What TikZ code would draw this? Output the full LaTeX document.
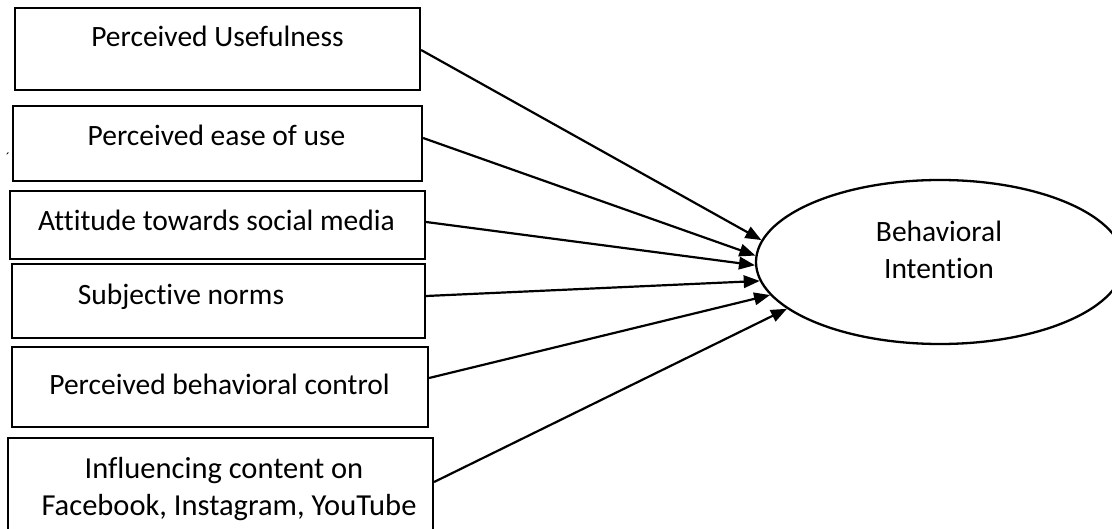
\documentclass[tikz,border=0pt]{standalone}
\usepackage{fontspec}
\setmainfont{Carlito}[Ligatures=NoCommon]
\usetikzlibrary{arrows.meta,shapes.geometric}
\begin{document}
\begin{tikzpicture}[x=1pt,y=-1pt,
  box/.style={draw=black,line width=2.2pt,rectangle,inner sep=0pt},
  txt/.style={inner sep=0pt,anchor=base,font=\fontsize{29.5}{37}\selectfont,align=center},
  bigtxt/.style={txt,font=\fontsize{30.5}{37}\selectfont},
  conn/.style={draw=black,line width=2.2pt,-{Triangle[length=16pt,width=12.5pt]}},
  oval/.style={draw=black,line width=2.3pt,ellipse,inner sep=0pt,minimum width=368pt,minimum height=164pt}]
\useasboundingbox (0,0) rectangle (1112,529);
\clip (0,0) rectangle (1112,529);
% boxes
\node[box,minimum width=405pt,minimum height=82pt] (b1) at (217.5,49) {};
\node[box,minimum width=409pt,minimum height=75pt] (b2) at (217.5,143.5) {};
\node[box,minimum width=415pt,minimum height=68pt] (b3) at (217.5,225) {};
\node[box,minimum width=413pt,minimum height=74pt] (b4) at (218.5,301) {};
\node[box,minimum width=416pt,minimum height=80pt] (b5) at (220,387) {};
\node[box,minimum width=425pt,minimum height=114pt] (b6) at (220.5,495) {};
% texts
\node[txt] (t1) at (217.5,47) {Perceived Usefulness};
\node[txt] (t2) at (216.5,146) {Perceived ease of use};
\node[txt] (t3) at (216.5,231) {Attitude towards social media};
\node[txt] (t4) at (181,304.5) {Subjective norms};
\node[txt] (t5) at (219.5,395) {Perceived behavioral control};
\node[bigtxt] (t6a) at (224,478.5) {Influencing content on};
\node[bigtxt] (t6b) at (229,515.5) {Facebook, Instagram, YouTube};
\node[inner sep=0pt,font=\fontsize{14}{14}\selectfont] (mk) at (8,158) {´};
% ellipse
\node[oval] (bi) at (940,262) {};
\node[txt] (e1) at (939,242) {Behavioral};
\node[txt] (e2) at (939,278.5) {Intention};
% connectors
\draw[conn] ([yshift=-1pt]b1.east) -- (bi.173.6);
\draw[conn] ([yshift=5.5pt]b2.east) -- (bi.178.2);
\draw[conn] ([yshift=3pt]b3.east) -- (bi.181.2);
\draw[conn] ([yshift=5pt]b4.east) -- (bi.186.8);
\draw[conn] ([yshift=9pt]b5.east) -- (bi.191.4);
\draw[conn] ([yshift=13pt]b6.east) -- (bi.197.5);
\end{tikzpicture}
\end{document}
